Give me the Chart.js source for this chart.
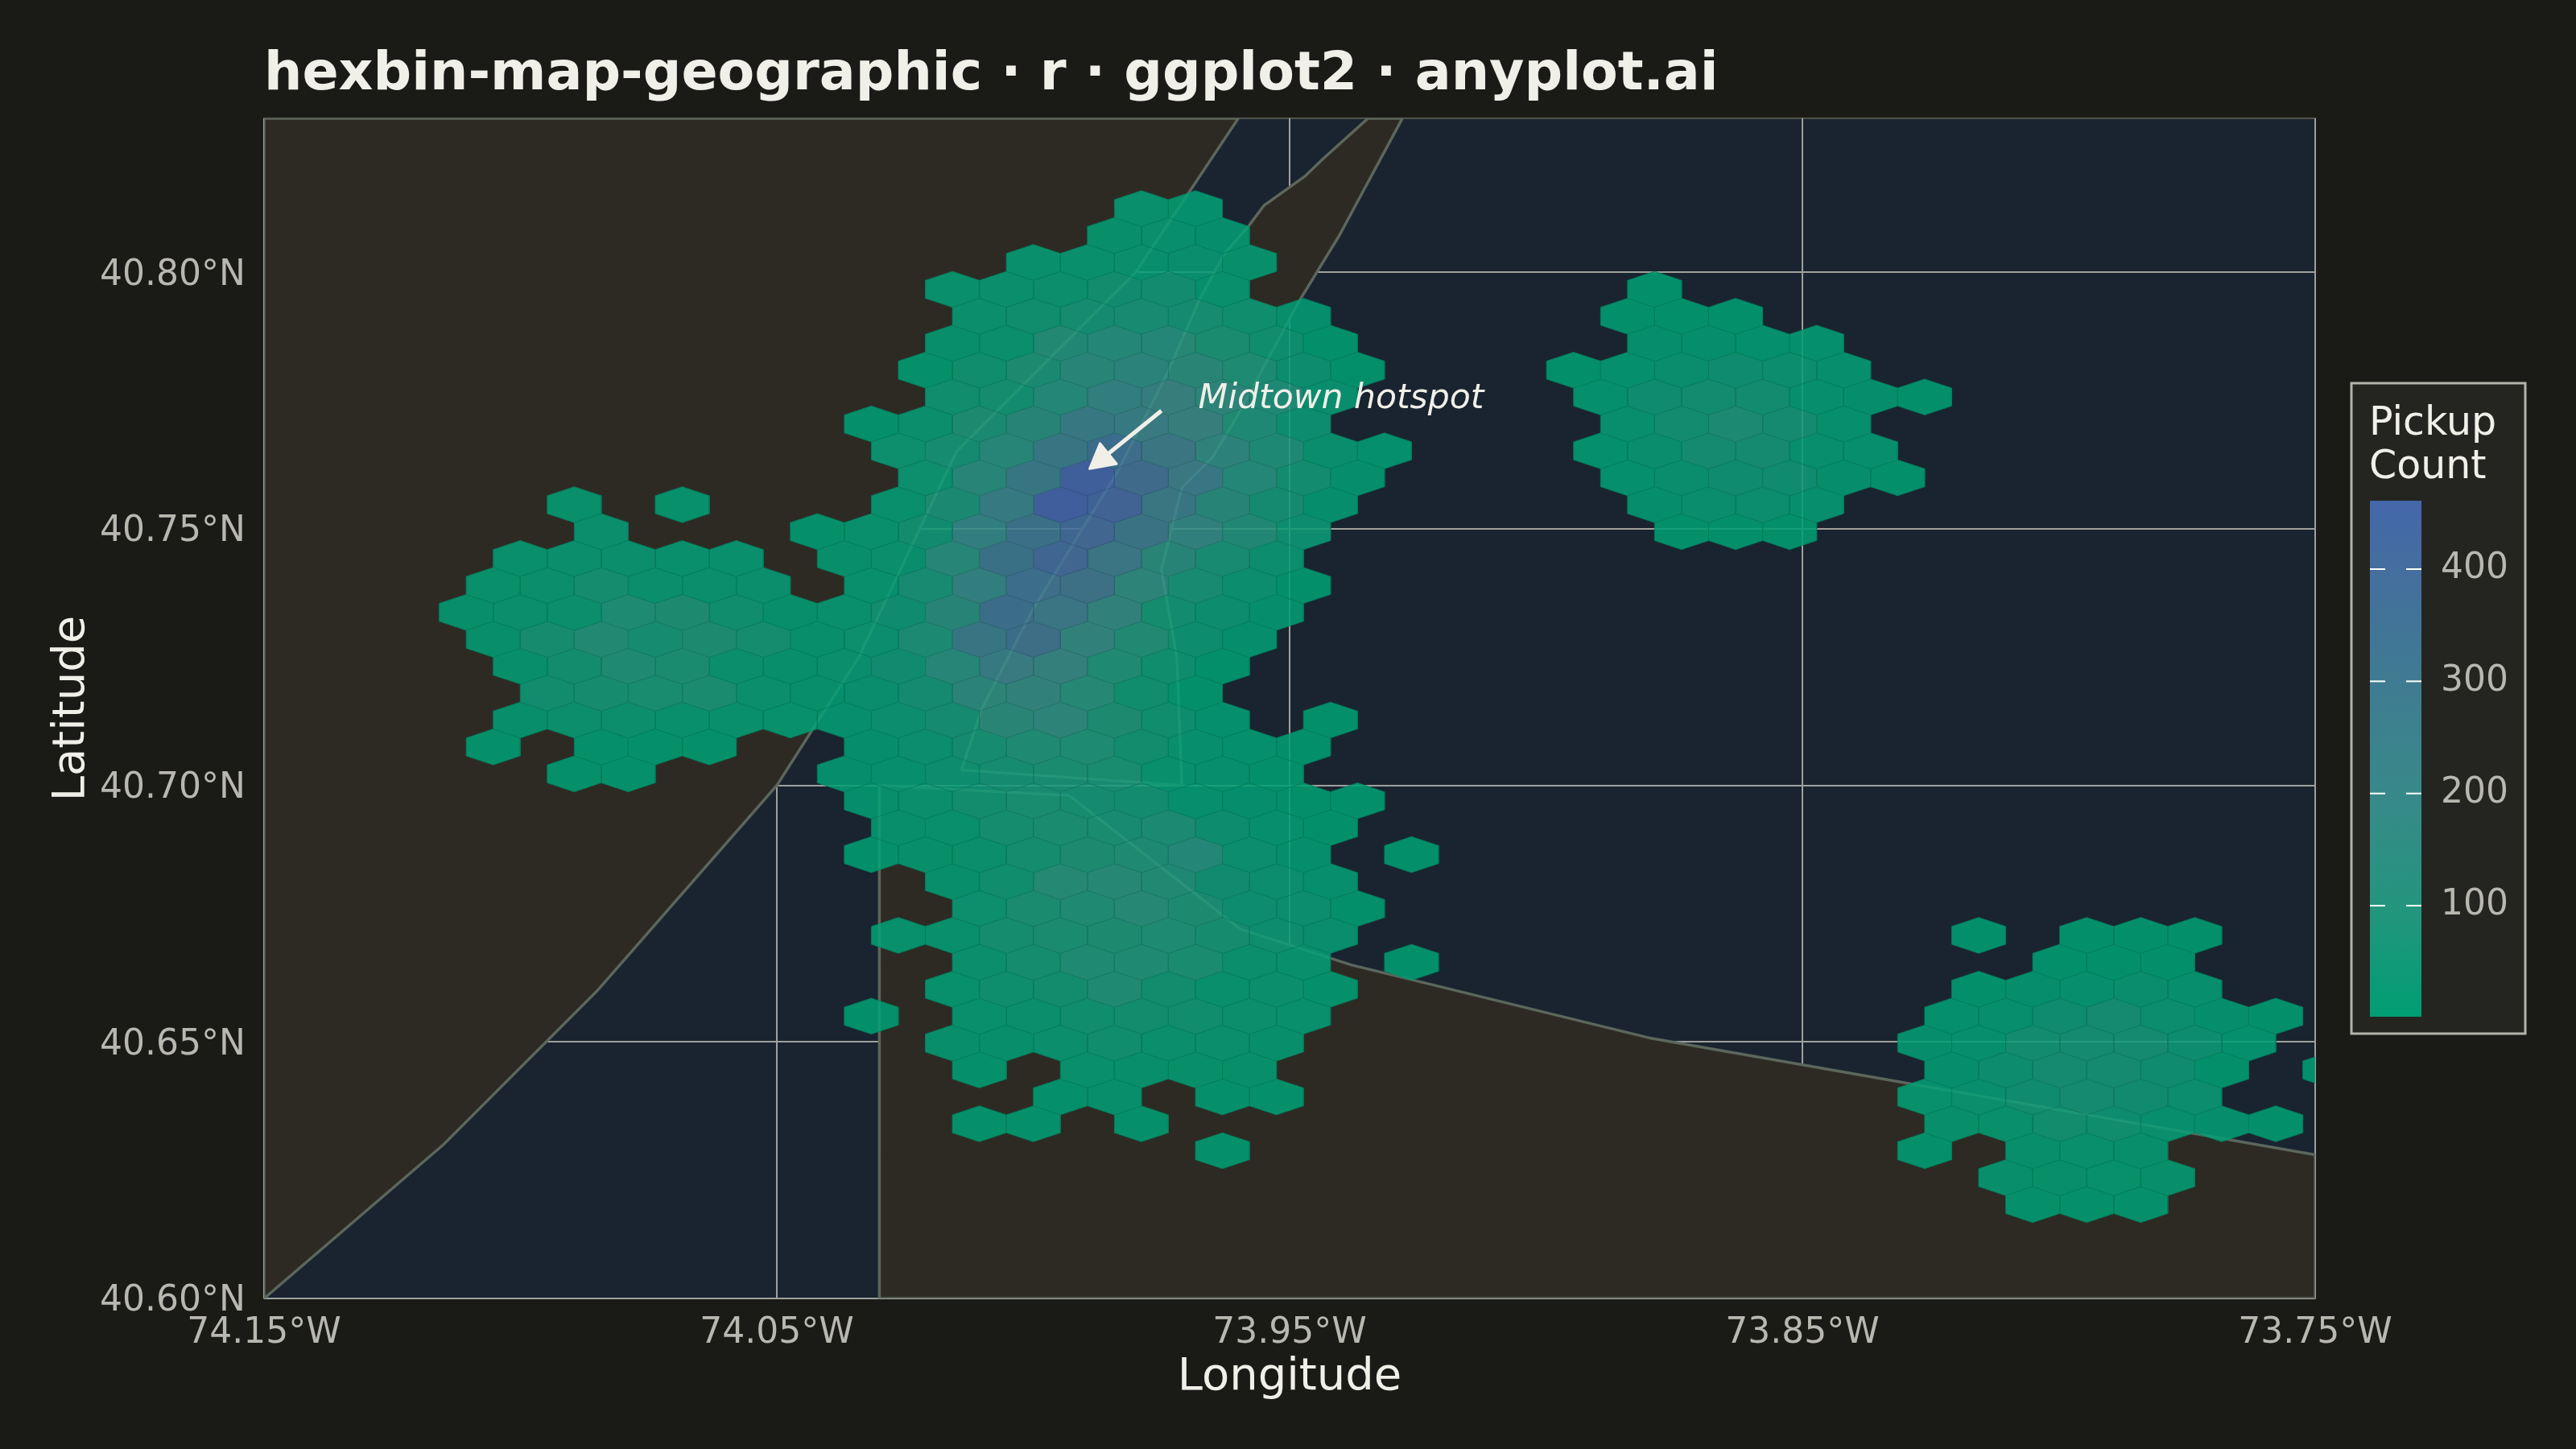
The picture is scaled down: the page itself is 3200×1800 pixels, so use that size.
<!DOCTYPE html>
<html>
<head>
<meta charset="utf-8">
<title>hexbin-map-geographic</title>
<script src="https://cdn.jsdelivr.net/npm/chart.js@4"></script>
<style>
  html, body { margin: 0; background: #1A1A17; }
  canvas { position: absolute; display: block; }
  #mapChart { left: 0; top: 0; }
  #scaleChart { left: 2918px; top: 473px; }
</style>
</head>
<body>
<canvas id="mapChart" width="3200" height="1800"></canvas>
<canvas id="scaleChart" width="222" height="814"></canvas>
<script>
const titleText = 'hexbin-map-geographic · r · ggplot2 · anyplot.ai';
const lonTicks = [-74.15, -74.05, -73.95, -73.85, -73.75];
const latTicks = [40.60, 40.65, 40.70, 40.75, 40.80];
const legendTicks = [100, 200, 300, 400];

// hex grid: row 0 is the northernmost, columns count half hex widths from the row 0 hex
const lonOrigin = -73.9789;
const latOrigin = 40.8124;
const halfHexLon = 0.005267;
const rowLat = 0.005246;

const hexCols = [
    [0, 2],
    [-1, 1, 3],
    [-4, -2, 0, 2, 4],
    [-7, -5, -3, -1, 1, 3, 19],
    [-6, -4, -2, 0, 2, 4, 6, 18, 20, 22],
    [-7, -5, -3, -1, 1, 3, 5, 7, 19, 21, 23, 25],
    [-8, -6, -4, -2, 0, 2, 4, 6, 8, 16, 18, 20, 22, 24, 26],
    [-7, -5, -3, -1, 1, 3, 5, 7, 17, 19, 21, 23, 25, 27, 29],
    [-10, -8, -6, -4, -2, 0, 2, 4, 6, 18, 20, 22, 24, 26],
    [-9, -7, -5, -3, -1, 1, 3, 5, 7, 9, 17, 19, 21, 23, 25, 27],
    [-8, -6, -4, -2, 0, 2, 4, 6, 8, 18, 20, 22, 24, 26, 28],
    [-21, -17, -9, -7, -5, -3, -1, 1, 3, 5, 7, 19, 21, 23, 25],
    [-20, -12, -10, -8, -6, -4, -2, 0, 2, 4, 6, 20, 22, 24],
    [-23, -21, -19, -17, -15, -11, -9, -7, -5, -3, -1, 1, 3, 5],
    [-24, -22, -20, -18, -16, -14, -10, -8, -6, -4, -2, 0, 2, 4, 6],
    [-25, -23, -21, -19, -17, -15, -13, -11, -9, -7, -5, -3, -1, 1, 3, 5],
    [-24, -22, -20, -18, -16, -14, -12, -10, -8, -6, -4, -2, 0, 2, 4],
    [-23, -21, -19, -17, -15, -13, -11, -9, -7, -5, -3, -1, 1, 3],
    [-22, -20, -18, -16, -14, -12, -10, -8, -6, -4, -2, 0, 2],
    [-23, -21, -19, -17, -15, -13, -11, -9, -7, -5, -3, -1, 1, 3, 7],
    [-24, -20, -18, -16, -10, -8, -6, -4, -2, 0, 2, 4, 6],
    [-21, -19, -11, -9, -7, -5, -3, -1, 1, 3, 5],
    [-10, -8, -6, -4, -2, 0, 2, 4, 6, 8],
    [-9, -7, -5, -3, -1, 1, 3, 5, 7],
    [-10, -8, -6, -4, -2, 0, 2, 4, 6, 10],
    [-7, -5, -3, -1, 1, 3, 5, 7],
    [-6, -4, -2, 0, 2, 4, 6, 8],
    [-9, -7, -5, -3, -1, 1, 3, 5, 7, 31, 35, 37, 39],
    [-6, -4, -2, 0, 2, 4, 6, 10, 34, 36, 38],
    [-7, -5, -3, -1, 1, 3, 5, 7, 31, 33, 35, 37, 39],
    [-10, -6, -4, -2, 0, 2, 4, 6, 30, 32, 34, 36, 38, 40, 42],
    [-7, -5, -3, -1, 1, 3, 5, 29, 31, 33, 35, 37, 39, 41],
    [-6, -2, 0, 2, 4, 30, 32, 34, 36, 38, 40, 44],
    [-3, -1, 3, 5, 29, 31, 33, 35, 37, 39],
    [-6, -4, 0, 30, 32, 34, 36, 38, 40, 42],
    [3, 29, 33, 35, 37],
    [32, 34, 36, 38],
    [33, 35, 37]
];
const hexCounts = [
    [12, 6],
    [10, 18, 8],
    [15, 15, 18, 20, 10],
    [12, 18, 22, 45, 50, 15, 5],
    [20, 30, 60, 70, 60, 35, 8, 4, 5, 5],
    [8, 18, 95, 110, 105, 70, 30, 5, 8, 8, 6, 6],
    [5, 30, 75, 125, 150, 130, 80, 30, 4, 3, 6, 20, 40, 28, 12],
    [30, 50, 110, 190, 200, 150, 90, 20, 6, 40, 50, 50, 15, 10, 3],
    [4, 20, 75, 130, 245, 230, 200, 90, 35, 18, 50, 80, 55, 15],
    [25, 60, 120, 260, 340, 270, 160, 90, 20, 6, 6, 20, 55, 60, 18, 12],
    [25, 125, 260, 450, 360, 250, 110, 50, 8, 6, 20, 40, 40, 8, 3],
    [12, 6, 15, 75, 230, 460, 430, 260, 130, 60, 10, 10, 22, 25, 12],
    [20, 5, 15, 45, 190, 310, 400, 290, 175, 95, 35, 5, 5, 5],
    [12, 18, 20, 15, 15, 10, 20, 120, 300, 400, 280, 130, 70, 25],
    [12, 20, 50, 18, 18, 18, 15, 70, 190, 330, 310, 150, 70, 25, 5],
    [8, 18, 22, 80, 75, 30, 8, 15, 40, 130, 320, 280, 170, 50, 30, 8],
    [10, 55, 90, 60, 75, 50, 10, 25, 80, 260, 320, 170, 90, 30, 8],
    [8, 45, 85, 70, 20, 10, 20, 45, 120, 230, 190, 85, 30, 5],
    [40, 55, 65, 70, 20, 8, 20, 55, 140, 170, 110, 35, 5],
    [10, 22, 22, 15, 12, 6, 15, 25, 55, 130, 150, 75, 30, 6, 3],
    [4, 5, 5, 4, 8, 25, 60, 85, 80, 40, 12, 6, 3],
    [3, 3, 8, 12, 30, 60, 70, 65, 12, 12, 5],
    [10, 20, 45, 65, 55, 50, 15, 10, 5, 3],
    [10, 15, 50, 70, 70, 80, 30, 15, 4],
    [4, 8, 20, 50, 75, 85, 105, 25, 10, 3],
    [8, 35, 100, 110, 90, 45, 25, 12],
    [25, 70, 85, 105, 75, 35, 25, 4],
    [6, 12, 50, 70, 75, 80, 55, 30, 20, 3, 3, 3, 3],
    [20, 50, 85, 85, 70, 18, 15, 3, 4, 5, 5],
    [6, 28, 45, 85, 40, 15, 20, 5, 5, 8, 15, 20, 15],
    [4, 15, 20, 35, 40, 35, 22, 15, 6, 12, 40, 55, 25, 10, 4],
    [10, 10, 20, 35, 20, 18, 10, 8, 15, 50, 55, 60, 35, 6],
    [5, 12, 10, 10, 8, 10, 30, 60, 60, 40, 4, 3],
    [4, 8, 4, 5, 6, 18, 40, 60, 45, 25],
    [5, 3, 4, 8, 14, 40, 35, 18, 8, 3],
    [3, 4, 10, 15, 10],
    [10, 8, 6, 8],
    [5, 5, 5]
];

// land outlines, lon/lat
const newJerseyLand = [[-74.15, 40.60], [-74.115, 40.63], [-74.085, 40.66], [-74.05, 40.70], [-74.034, 40.725],
    [-74.015, 40.765], [-73.98, 40.80], [-73.96, 40.83], [-74.15, 40.83], [-74.15, 40.60]];
const manhattanLand = [[-74.014, 40.703], [-74.010, 40.715], [-74.0, 40.7344], [-73.9836, 40.761], [-73.974, 40.78],
    [-73.9676, 40.7946], [-73.9628, 40.8035], [-73.958, 40.809], [-73.955, 40.813], [-73.947, 40.8187],
    [-73.9436, 40.822], [-73.9347, 40.83], [-73.928, 40.83], [-73.9404, 40.807], [-73.948, 40.7946],
    [-73.9604, 40.7716], [-73.965, 40.764], [-73.971, 40.758], [-73.973, 40.75], [-73.975, 40.742],
    [-73.972, 40.725], [-73.971, 40.70], [-74.014, 40.703]];
const longIslandLand = [[-74.03, 40.60], [-74.03, 40.70], [-73.993, 40.698], [-73.9596, 40.672], [-73.938, 40.665],
    [-73.8795, 40.6507], [-73.75, 40.628], [-73.75, 40.60], [-74.03, 40.60]];
const landShapes = [newJerseyLand, manhattanLand, longIslandLand];

const annotationText = 'Midtown hotspot';
const annotationAt = [-73.9678, 40.7752];
const arrowFrom = [-73.975, 40.773];
const arrowTo = [-73.989, 40.7617];

const colorStopCounts = [1, 100, 200, 300, 400, 461];
const colorStopRgb = [[0, 158, 115], [36, 149, 126], [56, 137, 137], [63, 123, 146], [68, 110, 158], [68, 103, 170]];

const waterBg = '#1A2430';
const landFill = '#2D2A24';
const landEdge = '#5F5E56';
const inkColor = '#F0EFE8';
const softInk = '#B8B7B0';
const fontName = '"DejaVu Sans"';

function countColor(count, alpha, shade = 1) {
    let i = 0;
    while (i < colorStopCounts.length - 2 && count > colorStopCounts[i + 1]) i++;
    const t = Math.min(1, (count - colorStopCounts[i]) / (colorStopCounts[i + 1] - colorStopCounts[i]));
    const rgb = colorStopRgb[i].map((c, k) => Math.round((c + (colorStopRgb[i + 1][k] - c) * t) * shade));
    return `rgba(${rgb[0]}, ${rgb[1]}, ${rgb[2]}, ${alpha})`;
}

function hexOutline(lon, lat) {
    const top = rowLat * 2 / 3;
    const side = rowLat / 3;
    return [
        { x: lon, y: lat + top },
        { x: lon + halfHexLon, y: lat + side },
        { x: lon + halfHexLon, y: lat - side },
        { x: lon, y: lat - top },
        { x: lon - halfHexLon, y: lat - side },
        { x: lon - halfHexLon, y: lat + side },
        { x: lon, y: lat + top }
    ];
}

const datasets = [];
hexCols.forEach((cols, row) => {
    cols.forEach((col, i) => {
        datasets.push({
            data: hexOutline(lonOrigin + col * halfHexLon, latOrigin - row * rowLat),
            showLine: true,
            fill: 'shape',
            backgroundColor: countColor(hexCounts[row][i], 0.88),
            borderColor: countColor(hexCounts[row][i], 0.85, 0.8),
            borderWidth: 1,
            pointRadius: 0,
            order: 0
        });
    });
});
landShapes.forEach(shape => {
    const points = shape.map(p => ({ x: p[0], y: p[1] }));
    datasets.push({
        data: points,
        showLine: true,
        fill: 'shape',
        backgroundColor: landFill,
        borderColor: landEdge,
        borderWidth: 3.5,
        pointRadius: 0,
        order: 1
    });
    // the coast still reads faintly through the hexes
    datasets.push({
        data: points,
        showLine: true,
        fill: false,
        borderColor: 'rgba(70, 190, 150, 0.1)',
        borderWidth: 3,
        pointRadius: 0,
        order: -1
    });
});

const panelPlugin = {
    id: 'panel',
    beforeDraw(chart) {
        const { ctx, chartArea: a } = chart;
        ctx.save();
        ctx.fillStyle = waterBg;
        ctx.fillRect(a.left, a.top, a.width, a.height);
        ctx.strokeStyle = '#55544C';
        ctx.lineWidth = 2;
        ctx.strokeRect(a.left, a.top, a.width, a.height);
        ctx.restore();
    }
};

const annotationPlugin = {
    id: 'annotation',
    afterDatasetsDraw(chart) {
        const { ctx, scales: { x, y } } = chart;
        const fromX = x.getPixelForValue(arrowFrom[0]);
        const fromY = y.getPixelForValue(arrowFrom[1]);
        const toX = x.getPixelForValue(arrowTo[0]);
        const toY = y.getPixelForValue(arrowTo[1]);
        const angle = Math.atan2(toY - fromY, toX - fromX);
        const headLen = 34;
        ctx.save();
        ctx.strokeStyle = inkColor;
        ctx.fillStyle = inkColor;
        ctx.lineWidth = 5;
        ctx.lineJoin = 'round';
        ctx.beginPath();
        ctx.moveTo(fromX, fromY);
        ctx.lineTo(toX - headLen * 0.8 * Math.cos(angle), toY - headLen * 0.8 * Math.sin(angle));
        ctx.stroke();
        ctx.lineWidth = 3;
        ctx.beginPath();
        ctx.moveTo(toX, toY);
        ctx.lineTo(toX - headLen * Math.cos(angle - 0.5), toY - headLen * Math.sin(angle - 0.5));
        ctx.lineTo(toX - headLen * Math.cos(angle + 0.5), toY - headLen * Math.sin(angle + 0.5));
        ctx.closePath();
        ctx.fill();
        ctx.stroke();
        ctx.font = `italic 42.5px ${fontName}`;
        ctx.textAlign = 'left';
        ctx.textBaseline = 'middle';
        ctx.fillText(annotationText, x.getPixelForValue(annotationAt[0]), y.getPixelForValue(annotationAt[1]));
        ctx.restore();
    }
};

new Chart(document.getElementById('mapChart'), {
    type: 'scatter',
    data: { datasets },
    plugins: [panelPlugin, annotationPlugin],
    options: {
        responsive: false,
        devicePixelRatio: 1,
        animation: false,
        events: [],
        layout: { padding: { right: 324 } },
        plugins: {
            legend: { display: false },
            tooltip: { enabled: false },
            title: {
                display: true,
                text: titleText,
                align: 'start',
                fullSize: false,
                color: inkColor,
                font: { family: fontName, size: 66.6, weight: 'bold', lineHeight: 1.2 },
                padding: { top: 54, bottom: 13 }
            }
        },
        scales: {
            x: {
                type: 'linear',
                min: -74.15,
                max: -73.75,
                afterBuildTicks(scale) { scale.ticks = lonTicks.map(value => ({ value })); },
                afterFit(scale) { scale.height = 187; },
                grid: { color: '#A0A09C', lineWidth: 2, drawTicks: false },
                border: { display: false },
                ticks: {
                    color: softInk,
                    font: { family: fontName, size: 44 },
                    padding: 17,
                    maxRotation: 0,
                    autoSkip: false,
                    callback: value => `${Math.abs(value).toFixed(2)}°W`
                },
                title: {
                    display: true,
                    text: 'Longitude',
                    color: inkColor,
                    font: { family: fontName, size: 56, lineHeight: 1.2 },
                    padding: { bottom: 55 }
                }
            },
            y: {
                type: 'linear',
                min: 40.60,
                max: 40.83,
                afterBuildTicks(scale) { scale.ticks = latTicks.map(value => ({ value })); },
                afterFit(scale) { scale.width = 328; },
                grid: { color: '#A0A09C', lineWidth: 2, drawTicks: false },
                border: { display: false },
                ticks: {
                    color: softInk,
                    font: { family: fontName, size: 44 },
                    padding: 23,
                    labelOffset: 4,
                    autoSkip: false,
                    callback: value => `${value.toFixed(2)}°N`
                },
                title: {
                    display: true,
                    text: 'Latitude',
                    color: inkColor,
                    font: { family: fontName, size: 56, lineHeight: 1.2 },
                    padding: { top: 56 }
                }
            }
        }
    }
});

// the colour bar is its own small chart so that the ticks come from a real scale
const legendFramePlugin = {
    id: 'legendFrame',
    beforeDraw(chart) {
        const { ctx } = chart;
        ctx.save();
        ctx.fillStyle = '#242521';
        ctx.strokeStyle = '#B4B4AC';
        ctx.lineWidth = 3;
        ctx.fillRect(3, 3, 216, 808);
        ctx.strokeRect(3, 3, 216, 808);
        ctx.fillStyle = inkColor;
        ctx.font = `49px ${fontName}`;
        ctx.textAlign = 'left';
        ctx.textBaseline = 'alphabetic';
        ctx.fillText('Pickup', 25, 67);
        ctx.fillText('Count', 25, 121);
        ctx.restore();
    },
    afterDatasetsDraw(chart) {
        const { ctx, chartArea: a, scales: { y } } = chart;
        ctx.save();
        ctx.fillStyle = '#FFFFFF';
        legendTicks.forEach(value => {
            const py = y.getPixelForValue(value);
            ctx.fillRect(a.left, py - 1, 19, 2);
            ctx.fillRect(a.right - 19, py - 1, 19, 2);
        });
        ctx.restore();
    }
};

function barGradient(context) {
    const { chart } = context;
    if (!chart.chartArea) return colorStopRgb[0];
    const y = chart.scales.y;
    const maxCount = colorStopCounts[colorStopCounts.length - 1];
    const gradient = chart.ctx.createLinearGradient(0, y.getPixelForValue(1), 0, y.getPixelForValue(maxCount));
    colorStopCounts.forEach(count => {
        gradient.addColorStop((count - 1) / (maxCount - 1), countColor(count, 1));
    });
    return gradient;
}

new Chart(document.getElementById('scaleChart'), {
    type: 'bar',
    data: {
        labels: ['Pickup Count'],
        datasets: [{
            data: [[1, colorStopCounts[colorStopCounts.length - 1]]],
            backgroundColor: barGradient,
            borderWidth: 0,
            barPercentage: 1,
            categoryPercentage: 1
        }]
    },
    plugins: [legendFramePlugin],
    options: {
        responsive: false,
        devicePixelRatio: 1,
        animation: false,
        events: [],
        layout: { padding: { left: 26, top: 149, bottom: 24 } },
        plugins: { legend: { display: false }, tooltip: { enabled: false } },
        scales: {
            x: { display: false },
            y: {
                position: 'right',
                min: 1,
                max: colorStopCounts[colorStopCounts.length - 1],
                afterBuildTicks(scale) { scale.ticks = legendTicks.map(value => ({ value })); },
                afterFit(scale) {
                    scale.width = 132;
                    scale.paddingTop = 0;
                    scale.paddingBottom = 0;
                },
                grid: { display: false },
                border: { display: false },
                ticks: {
                    color: softInk,
                    font: { family: fontName, size: 44 },
                    padding: 16
                }
            }
        }
    }
});
</script>
</body>
</html>
